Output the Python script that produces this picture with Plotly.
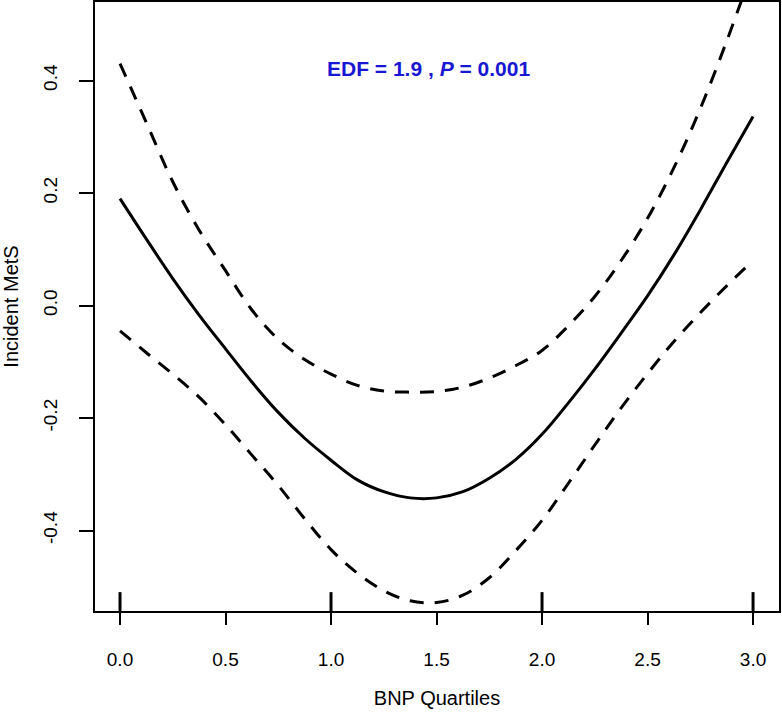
import plotly.graph_objects as go

# ---- data ----
bnp_quartile = [0.0, 0.125, 0.25, 0.375, 0.5, 0.625, 0.75, 0.875, 1.0, 1.125, 1.25, 1.375,
                1.5, 1.625, 1.75, 1.875, 2.0, 2.125, 2.25, 2.375, 2.5, 2.625, 2.75, 2.875, 3.0]
fit = [0.19, 0.118, 0.048, -0.017, -0.077, -0.136, -0.190, -0.236, -0.275, -0.310, -0.331, -0.342,
       -0.342, -0.331, -0.307, -0.274, -0.229, -0.173, -0.113, -0.049, 0.017, 0.090, 0.170, 0.254, 0.336]
upper = [0.43, 0.325, 0.22, 0.134, 0.062, -0.008, -0.06, -0.096, -0.122, -0.142, -0.152, -0.154,
         -0.153, -0.145, -0.129, -0.107, -0.080, -0.036, 0.016, 0.080, 0.155, 0.245, 0.350, 0.470, 0.600]
lower = [-0.045, -0.084, -0.122, -0.163, -0.212, -0.266, -0.320, -0.379, -0.434, -0.476, -0.507, -0.525,
         -0.528, -0.515, -0.484, -0.436, -0.382, -0.316, -0.248, -0.182, -0.121, -0.064, -0.013, 0.035, 0.080]
rug_x = [0, 1, 2, 3]

x_tick_vals = [0.0, 0.5, 1.0, 1.5, 2.0, 2.5, 3.0]
x_tick_text = ["0.0", "0.5", "1.0", "1.5", "2.0", "2.5", "3.0"]
y_tick_vals = [-0.4, -0.2, 0.0, 0.2, 0.4]
y_tick_text = ["-0.4", "-0.2", "0.0", "0.2", "0.4"]

FONT = "Liberation Sans, Arial, sans-serif"

fig = go.Figure()
fig.add_trace(go.Scatter(x=bnp_quartile, y=fit, mode="lines",
                         line=dict(color="black", width=3, shape="spline"), showlegend=False))
for band in (upper, lower):
    fig.add_trace(go.Scatter(x=bnp_quartile, y=band, mode="lines",
                             line=dict(color="black", width=3, dash="14px,11px", shape="spline"),
                             showlegend=False))

for rx in rug_x:
    fig.add_shape(type="line", xref="x", yref="y domain", x0=rx, x1=rx, y0=0, y1=0.031,
                  line=dict(color="black", width=3))

fig.add_annotation(text="<b>EDF = 1.9 , <i>P</i> = 0.001</b>", xref="paper", yref="paper",
                   x=0.488, y=0.8916, xanchor="center", yanchor="middle", showarrow=False,
                   font=dict(family=FONT, size=21, color="#1818d2"))

fig.update_layout(
    width=782, height=712,
    margin=dict(l=95, r=3, t=2, b=101),
    paper_bgcolor="white", plot_bgcolor="white",
    font=dict(family=FONT, size=19, color="black"),
    xaxis=dict(range=[-0.1185, 3.123], tickvals=x_tick_vals, ticktext=x_tick_text,
               ticks="outside", ticklen=12, tickwidth=2, tickcolor="black",
               showline=True, linecolor="black", linewidth=2, mirror=True,
               showgrid=False, zeroline=False, ticklabelstandoff=18, automargin=False,
               tickfont=dict(family=FONT, size=19, color="black"),
               title=dict(text="BNP Quartiles", font=dict(family=FONT, size=20, color="black"), standoff=22)),
    yaxis=dict(range=[-0.5431, 0.5396], tickvals=y_tick_vals, ticktext=y_tick_text,
               tickangle=-90,
               ticks="outside", ticklen=14, tickwidth=2, tickcolor="black",
               showline=True, linecolor="black", linewidth=2, mirror=True,
               showgrid=False, zeroline=False, ticklabelstandoff=14, automargin=False,
               tickfont=dict(family=FONT, size=19, color="black"),
               title=dict(text="Incident MetS", font=dict(family=FONT, size=20, color="black"), standoff=26)),
)

fig.write_html("out.html", config={"displayModeBar": False},
               post_script="document.body.style.margin='0';document.body.style.overflow='hidden';")
